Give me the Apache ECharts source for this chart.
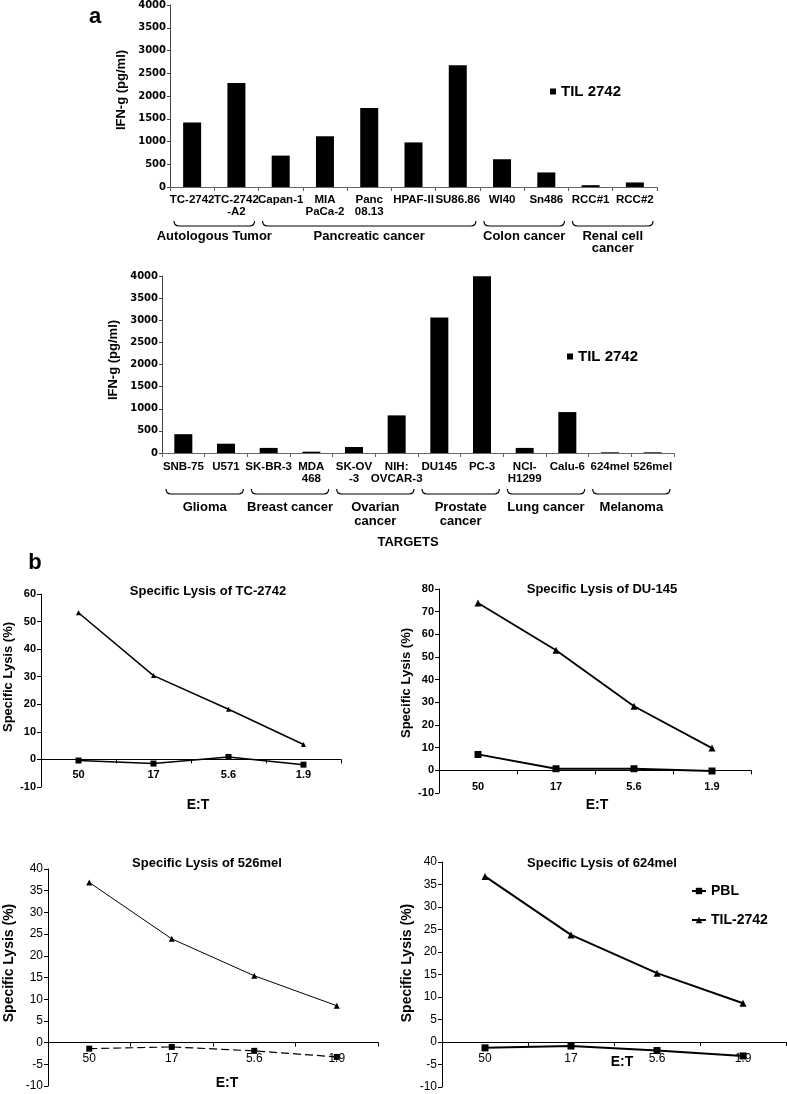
<!DOCTYPE html>
<html><head><meta charset="utf-8">
<script src="https://cdn.jsdelivr.net/npm/echarts@6/dist/echarts.min.js"></script>
<style>html,body{margin:0;padding:0;background:#fff}#c{width:787px;height:1094px}</style>
</head><body><div id="c"></div>
<script>
// ---- Data ----
const catsA = ['TC-2742','TC-2742\n-A2','Capan-1','MIA\nPaCa-2','Panc\n08.13','HPAF-II','SU86.86','WI40','Sn486','RCC#1','RCC#2'];
const valsA = [1420,2285,690,1115,1735,980,2675,610,320,40,100];
const groupsA = [[0,1],[2,6],[7,8],[9,10]];
const groupNamesA = ['Autologous Tumor','Pancreatic cancer','Colon cancer','Renal cell\ncancer'];
const catsB = ['SNB-75','U571','SK-BR-3','MDA\n468','SK-OV\n-3','NIH:\nOVCAR-3','DU145','PC-3','NCI-\nH1299','Calu-6','624mel','526mel'];
const valsB = [425,210,115,30,135,850,3060,3995,115,925,15,15];
const groupsB = [[0,1],[2,3],[4,5],[6,7],[8,9],[10,11]];
const groupNamesB = ['Glioma','Breast cancer','Ovarian\ncancer','Prostate\ncancer','Lung cancer','Melanoma'];
const ifnRange = [0, 4000, 500];
const etRatios = ['50','17','5.6','1.9'];
const lysisTitles = ['Specific Lysis of TC-2742','Specific Lysis of DU-145','Specific Lysis of 526mel','Specific Lysis of 624mel'];
const lysisRanges = [[-10,60,10],[-10,80,10],[-10,40,5],[-10,40,5]];
const pblTC = [-0.4,-1.5,0.9,-1.9];
const tilTC = [53.2,30.4,18.2,5.4];
const pblDU = [7.0,0.7,0.7,-0.3];
const tilDU = [73.8,53.0,28.3,9.8];
const pbl526 = [-1.4,-1.0,-1.9,-3.3];
const til526 = [36.9,23.9,15.4,8.5];
const pbl624 = [-1.3,-0.9,-1.9,-3.1];
const til624 = [36.8,23.8,15.3,8.6];

// ---- Chart ----
const FF = '"Liberation Sans", Arial, sans-serif';
const chart = echarts.init(document.getElementById('c'), null, {renderer:'canvas'});

const grids = [
  {left:170, top:5, width:487, height:182},
  {left:162, top:276, width:512, height:177},
  {left:41, top:594, width:300, height:193},
  {left:439, top:589, width:312, height:204},
  {left:48, top:869, width:330, height:217},
  {left:442, top:862, width:344, height:225}
];

function bracketRender(names, offY, labelOff, lh) {
  return function (params, api) {
    const s = api.value(0), e = api.value(1);
    const bw = api.size([1, 0])[0];
    const p0 = api.coord([s, 0]), p1 = api.coord([e, 0]);
    const x1 = p0[0] - bw / 2 + 4, x2 = p1[0] + bw / 2 - 4;
    const y0 = p0[1] + offY, d = 5;
    const path = 'M' + x1 + ',' + y0 + ' Q' + x1 + ',' + (y0 + d) + ' ' + (x1 + 5) + ',' + (y0 + d) +
      ' L' + (x2 - 5) + ',' + (y0 + d) + ' Q' + x2 + ',' + (y0 + d) + ' ' + x2 + ',' + y0;
    return {
      type: 'group', children: [
        {type: 'path', shape: {pathData: path}, style: {fill: null, stroke: '#000', lineWidth: 1.2}},
        {type: 'text', x: (x1 + x2) / 2, y: p0[1] + labelOff,
          style: {text: names[params.dataIndex], fill: '#000', fontSize: 13, fontWeight: 'bold', fontFamily: FF,
            align: 'center', verticalAlign: 'top', lineHeight: lh}}
      ]
    };
  };
}

const barX = (cats, idx, margin, lh) => ({
  type: 'category', gridIndex: idx, data: cats,
  axisLine: {lineStyle: {color: '#666', width: 1}},
  axisTick: {show: true, interval: 0, length: 4, lineStyle: {color: '#666'}},
  axisLabel: {interval: 0, margin: margin, color: '#000', fontSize: 11.5, fontWeight: 'bold', fontFamily: FF, lineHeight: lh}
});
const barY = (idx) => ({
  type: 'value', gridIndex: idx, min: ifnRange[0], max: ifnRange[1], interval: ifnRange[2],
  splitLine: {show: false},
  axisLine: {show: true, lineStyle: {color: '#444'}},
  axisTick: {show: true, length: 3, lineStyle: {color: '#444'}},
  axisLabel: {color: '#000', fontSize: 10, fontWeight: 'bold', fontFamily: '"DejaVu Sans", sans-serif', margin: 4,
    formatter: v => String(v)}
});
// category axis placed at the value 0 of its value axis
const lineX = (idx, r, margin, fs, fw) => ({
  type: 'category', gridIndex: idx, data: etRatios,
  offset: -grids[idx].height * (0 - r[0]) / (r[1] - r[0]),
  axisLine: {onZero: false, lineStyle: {color: '#000', width: 1}},
  axisTick: {show: true, length: 4, lineStyle: {color: '#000'}},
  axisLabel: {margin: margin, color: '#000', fontSize: fs, fontWeight: fw, fontFamily: FF}
});
const lineY = (idx, r, fs, fw) => ({
  type: 'value', gridIndex: idx, min: r[0], max: r[1], interval: r[2],
  splitLine: {show: false},
  axisLine: {show: true, onZero: false, lineStyle: {color: '#000'}},
  axisTick: {show: true, length: 4, lineStyle: {color: '#000'}},
  axisLabel: {color: '#000', fontSize: fs, fontWeight: fw, fontFamily: FF, margin: 5}
});

function lineSeries(name, idx, data, sym, size, width, dashed) {
  return {
    name: name, type: 'line', xAxisIndex: idx, yAxisIndex: idx, data: data,
    symbol: sym, symbolSize: size, showSymbol: true,
    itemStyle: {color: '#000'},
    lineStyle: {color: '#000', width: width, type: dashed ? [8, 4] : 'solid'},
    animation: false
  };
}

const txt = (t, x, y, size, rot) => ({
  type: 'text', x: x, y: y, rotation: rot || 0,
  style: {text: t, fill: '#000', fontSize: size, fontWeight: 'bold', fontFamily: FF, align: 'center', verticalAlign: 'middle'}
});

const option = {
  backgroundColor: '#fff',
  animation: false,
  grid: grids,
  xAxis: [
    barX(catsA, 0, 7, 12),
    barX(catsB, 1, 8, 12),
    lineX(2, lysisRanges[0], 10, 11, 'bold'),
    lineX(3, lysisRanges[1], 11, 11, 'bold'),
    lineX(4, lysisRanges[2], 10, 12, 'normal'),
    lineX(5, lysisRanges[3], 11, 12, 'normal')
  ],
  yAxis: [
    barY(0), barY(1),
    lineY(2, lysisRanges[0], 11, 'bold'),
    lineY(3, lysisRanges[1], 11, 'bold'),
    lineY(4, lysisRanges[2], 12, 'normal'),
    lineY(5, lysisRanges[3], 12, 'normal')
  ],
  legend: [
    {data: ['TIL 2742'], left: 545, top: 79, icon: 'rect', itemWidth: 6, itemHeight: 6, itemGap: 5, selectedMode: false,
      textStyle: {color: '#000', fontSize: 15, fontWeight: 'bold', fontFamily: FF}},
    {data: ['TIL 2742'], left: 562, top: 344, icon: 'rect', itemWidth: 6, itemHeight: 6, itemGap: 5, selectedMode: false,
      textStyle: {color: '#000', fontSize: 15, fontWeight: 'bold', fontFamily: FF}},
    {data: ['PBL', 'TIL-2742'], left: 686, top: 879, orient: 'vertical', itemWidth: 14, itemHeight: 8, itemGap: 15, selectedMode: false,
      textStyle: {color: '#000', fontSize: 14, fontWeight: 'bold', fontFamily: FF}}
  ],
  series: [
    {name: 'TIL 2742', type: 'bar', xAxisIndex: 0, yAxisIndex: 0, data: valsA, barWidth: 18, itemStyle: {color: '#000'}},
    {name: 'TIL 2742', type: 'bar', xAxisIndex: 1, yAxisIndex: 1, data: valsB, barWidth: 18, itemStyle: {color: '#000'}},
    {type: 'custom', xAxisIndex: 0, yAxisIndex: 0, data: groupsA, silent: true, clip: false,
      renderItem: bracketRender(groupNamesA, 34, 43, 12)},
    {type: 'custom', xAxisIndex: 1, yAxisIndex: 1, data: groupsB, silent: true, clip: false,
      renderItem: bracketRender(groupNamesB, 36, 47, 14)},
    lineSeries('PBL', 2, pblTC, 'rect', 6, 1.5),
    lineSeries('TIL-2742', 2, tilTC, 'triangle', 5, 1.5),
    lineSeries('PBL', 3, pblDU, 'rect', 7, 1.8),
    lineSeries('TIL-2742', 3, tilDU, 'triangle', 7, 1.8),
    lineSeries('PBL', 4, pbl526, 'rect', 6, 1.2, true),
    lineSeries('TIL-2742', 4, til526, 'triangle', 6, 1),
    lineSeries('PBL', 5, pbl624, 'rect', 7, 2),
    lineSeries('TIL-2742', 5, til624, 'triangle', 7, 2)
  ],
  graphic: [
    txt('a', 95, 17, 22),
    txt('b', 35, 563, 22),
    txt('IFN-g (pg/ml)', 121, 90, 13, Math.PI / 2),
    txt('IFN-g (pg/ml)', 113, 360, 13, Math.PI / 2),
    txt('TARGETS', 408, 542, 13),
    txt(lysisTitles[0], 208, 591, 13),
    txt(lysisTitles[1], 602, 589, 13),
    txt(lysisTitles[2], 207, 863, 13),
    txt(lysisTitles[3], 602, 863, 13),
    txt('E:T', 198, 805, 14),
    txt('E:T', 597, 805, 14),
    txt('E:T', 227, 1083, 14),
    txt('E:T', 622, 1062, 14),
    txt('Specific Lysis (%)', 8, 677, 13, Math.PI / 2),
    txt('Specific Lysis (%)', 406, 683, 13, Math.PI / 2),
    txt('Specific Lysis (%)', 9, 963, 14, Math.PI / 2),
    txt('Specific Lysis (%)', 407, 963, 14, Math.PI / 2)
  ]
};
chart.setOption(option);
</script>
</body></html>
